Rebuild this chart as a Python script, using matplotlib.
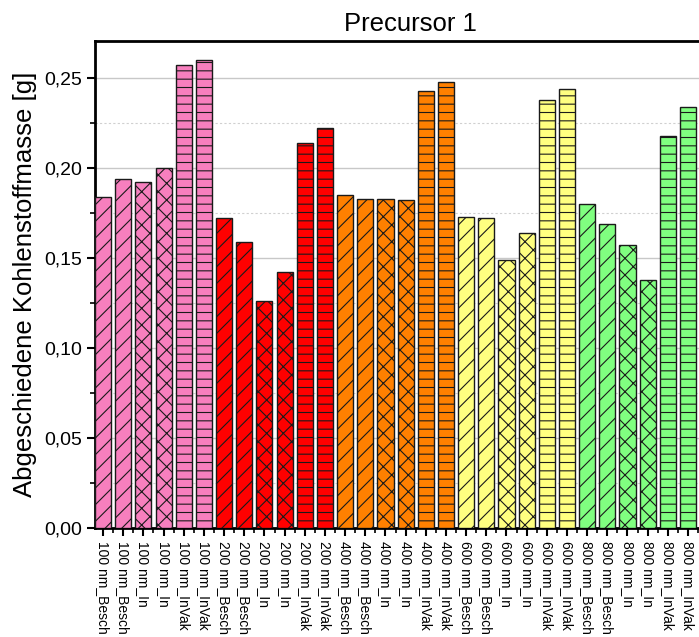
import matplotlib
matplotlib.use("Agg")
import matplotlib.pyplot as plt
from matplotlib.ticker import MultipleLocator, FuncFormatter

plt.rcParams["font.family"] = ["Liberation Sans", "DejaVu Sans"]
plt.rcParams["hatch.linewidth"] = 0.8

sizes = ["100", "200", "400", "600", "800"]
conditions = ["Besch", "Besch", "In", "In", "InVak", "InVak"]
labels = [f"{s} nm_{c}" for s in sizes for c in conditions]

values = [
    0.184, 0.194, 0.192, 0.200, 0.257, 0.260,
    0.172, 0.159, 0.126, 0.142, 0.214, 0.222,
    0.185, 0.183, 0.183, 0.182, 0.243, 0.248,
    0.173, 0.172, 0.149, 0.164, 0.238, 0.244,
    0.180, 0.169, 0.157, 0.138, 0.218, 0.234,
]

size_colors = {
    "100": "#f77fbe",
    "200": "#ff0000",
    "400": "#ff8000",
    "600": "#ffff80",
    "800": "#80ff80",
}
cond_hatch = {"Besch": "//", "In": "xx", "InVak": "--"}

fig = plt.figure(figsize=(6.99, 6.37), dpi=100)
# axes runs past the right border, like the cropped original
ax = fig.add_axes([95 / 699, 1 - 528 / 637, 630 / 699, (528 - 41) / 637])

for i, (lab, val) in enumerate(zip(labels, values)):
    size, cond = lab.split(" nm_")
    ax.bar(i, val, width=0.8, color=size_colors[size], edgecolor="#1a1a1a",
           linewidth=1.0, hatch=cond_hatch[cond], zorder=3)

ax.set_xlim(-0.4, -0.4 + 630 / 20.17)
ax.set_ylim(0, 0.2705)

ax.set_xticks(range(len(labels)))
ax.set_xticklabels(labels, rotation=-90, fontsize=10)
ax.xaxis.set_minor_locator(MultipleLocator(1, offset=0.5))
ax.yaxis.set_major_locator(MultipleLocator(0.05))
ax.yaxis.set_minor_locator(MultipleLocator(0.025))
ax.yaxis.set_major_formatter(FuncFormatter(lambda v, p: f"{v:.2f}".replace(".", ",")))

ax.tick_params(axis="both", which="major", direction="out", length=6, width=1.5)
ax.tick_params(axis="both", which="minor", direction="out", length=3.5, width=1.2)
ax.tick_params(axis="y", labelsize=14)

ax.grid(axis="y", which="major", color="#c8c8c8", linewidth=1.0, zorder=0)
ax.grid(axis="y", which="minor", color="#d0d0d0", linewidth=0.8,
        linestyle=(0, (2, 2)), zorder=0)
ax.set_axisbelow(True)

for side in ["left", "bottom", "top", "right"]:
    ax.spines[side].set_linewidth(2.0)

ax.set_ylabel("Abgeschiedene Kohlenstoffmasse [g]", fontsize=18.5, labelpad=5)
ax.set_title("Precursor 1", fontsize=18.5, pad=7)

fig.savefig("out.png", dpi=100)
